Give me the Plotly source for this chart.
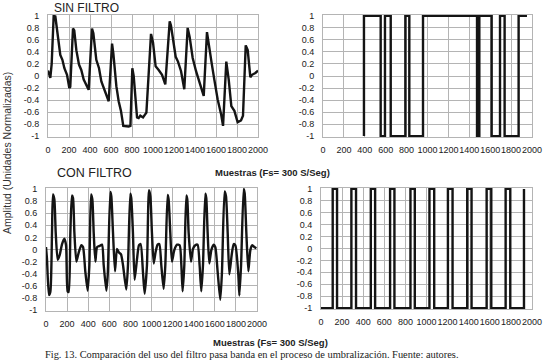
import plotly.graph_objects as go

# ---------------- data ----------------
sin_x = [0, 22, 35, 54, 70, 92, 117, 137, 156, 181, 203, 212, 238, 250, 270, 295, 317, 340, 365, 387,
         419, 432, 460, 486, 508, 530, 556, 578, 610, 622, 651, 673, 695, 717, 768, 785, 803, 816, 848,
         863, 879, 905, 937, 981, 1000, 1025, 1054, 1086, 1117, 1159, 1171, 1197, 1216, 1238, 1267, 1298,
         1330, 1349, 1378, 1410, 1441, 1463, 1483, 1514, 1533, 1559, 1584, 1616, 1648, 1667, 1698, 1721,
         1746, 1775, 1806, 1838, 1857, 1883, 1902, 1927, 1943, 1975, 2000]
sin_y = [0.09, -0.03, 0.2, 1.0, 0.99, 0.65, 0.35, 0.27, 0.13, 0.02, -0.2, -0.18, 0.79, 0.76, 0.43, 0.19,
         0.10, -0.06, -0.14, -0.23, 0.79, 0.71, 0.27, 0.13, -0.09, -0.2, -0.31, -0.42, 0.54, 0.38, -0.17,
         -0.42, -0.58, -0.83, -0.84, -0.83, 0.13, 0.0, -0.69, -0.70, -0.66, -0.69, -0.61, 0.70, 0.56, 0.16,
         0.10, 0.02, -0.14, 0.91, 0.84, 0.49, 0.32, 0.24, 0.08, -0.22, 0.80, 0.65, 0.30, 0.08, -0.09, -0.18,
         -0.33, 0.73, 0.54, 0.21, -0.06, -0.39, -0.63, -0.83, 0.24, -0.06, -0.5, -0.58, -0.77, -0.74, -0.66,
         0.51, 0.43, -0.02, 0.02, 0.05, 0.09]

con_x = [0, 9, 28, 41, 57, 66, 79, 92, 111, 130, 152, 174, 190, 205, 215, 231, 246, 256, 269, 288, 310,
         335, 351, 373, 395, 411, 427, 439, 452, 468, 484, 509, 531, 547, 572, 585, 610, 619, 635, 654,
         673, 692, 711, 730, 761, 777, 799, 808, 824, 840, 863, 881, 897, 919, 935, 957, 976, 989, 1004,
         1021, 1039, 1058, 1074, 1093, 1115, 1131, 1153, 1162, 1178, 1194, 1216, 1242, 1267, 1283, 1295,
         1311, 1330, 1339, 1352, 1374, 1393, 1415, 1437, 1456, 1472, 1488, 1510, 1519, 1532, 1548, 1567,
         1589, 1605, 1627, 1652, 1668, 1693, 1706, 1722, 1738, 1760, 1779, 1795, 1823, 1833, 1849, 1874,
         1883, 1899, 1918, 1937, 1956, 1975, 1994]
con_y = [0.04, -0.15, -0.75, -0.70, 0.28, 0.91, 0.83, 0.28, -0.17, -0.09, 0.09, 0.18, 0.07, -0.69, -0.70,
         0.28, 0.89, 0.85, 0.28, -0.2, -0.05, 0.07, 0.04, -0.37, -0.68, -0.26, 0.91, 0.83, 0.28, -0.2, 0.04,
         0.06, 0.08, -0.26, -0.68, -0.42, 0.95, 0.88, 0.28, -0.36, 0.01, -0.05, -0.08, -0.26, -0.66, -0.26,
         0.92, 0.85, 0.28, -0.50, -0.15, 0.07, 0.09, -0.37, -0.73, -0.26, 0.98, 0.88, 0.28, -0.23, -0.04,
         0.08, 0.09, -0.26, -0.65, -0.26, 0.90, 0.83, 0.28, -0.2, -0.01, 0.08, 0.07, -0.26, -0.69, -0.26,
         0.89, 0.83, 0.28, -0.2, 0.01, 0.07, 0.08, -0.26, -0.69, -0.26, 0.92, 0.85, 0.28, -0.23, -0.01,
         0.08, 0.04, -0.37, -0.83, -0.37, 0.96, 0.88, 0.28, -0.41, -0.09, 0.09, 0.07, -0.42, -0.76, -0.26,
         1.0, 0.93, 0.28, -0.36, -0.01, 0.07, 0.04, 0.02]

umb_sin_x = [392, 392, 552, 593, 648, 788, 826, 957, 1474, 1496, 1614, 1694, 1738, 1872, 1952]
umb_sin_y = [-1, 1, -1, 1, -1, 1, -1, 1, -1, 1, -1, 1, -1, 1, 1]

umb_con_x = [0, 111, 152, 288, 332, 472, 513, 655, 696, 848, 889, 1028, 1073, 1203, 1247, 1386, 1427,
             1570, 1614, 1750, 1794, 1924]
umb_con_y = [-1, 1, -1, 1, -1, 1, -1, 1, -1, 1, -1, 1, -1, 1, -1, 1, -1, 1, -1, 1, -1, 1]

x_tickvals = [0, 200, 400, 600, 800, 1000, 1200, 1400, 1600, 1800, 2000]
x_ticktext = ["0", "200", "400", "600", "800", "1000", "1200", "1400", "1600", "1800", "2000"]
y_tickvals = [1, 0.8, 0.6, 0.4, 0.2, 0, -0.2, -0.4, -0.6, -0.8, -1]
y_ticktext = ["1", "0.8", "0.6", "0.4", "0.2", "0", "-0.2", "-0.4", "-0.6", "-0.8", "-1"]

title_top = "SIN FILTRO"
title_bottom = "CON FILTRO"
x_title = "Muestras (Fs= 300 S/Seg)"
y_title = "Amplitud (Unidades Normalizadas)"
caption = "Fig. 13. Comparación del uso del filtro pasa banda en el proceso de umbralización. Fuente: autores."

# ---------------- figure ----------------
W, H = 550, 364
LINE = dict(color="#141414", width=2.4)

fig = go.Figure()
fig.add_trace(go.Scatter(x=sin_x, y=sin_y, mode="lines", line=LINE, xaxis="x", yaxis="y"))
fig.add_trace(go.Scatter(x=umb_sin_x, y=umb_sin_y, mode="lines", line=dict(LINE, shape="hv"),
                         xaxis="x2", yaxis="y2"))
fig.add_trace(go.Scatter(x=con_x, y=con_y, mode="lines", line=dict(LINE, shape="spline", smoothing=0.6),
                         xaxis="x3", yaxis="y3"))
fig.add_trace(go.Scatter(x=umb_con_x, y=umb_con_y, mode="lines", line=dict(LINE, shape="hv"),
                         xaxis="x4", yaxis="y4"))


def px_x(p):
    return p / W


def px_y(p):
    return 1 - p / H


tick_font = dict(family="Liberation Sans, Arial, sans-serif", size=9, color="#1a1a1a")


def xaxis(left, right, anchor):
    return dict(domain=[px_x(left), px_x(right)], range=[0, 2000], anchor=anchor, automargin=False,
                tickvals=x_tickvals, ticktext=x_ticktext, tickfont=tick_font, tickangle=0,
                showgrid=True, gridcolor="#b4b4b4", gridwidth=1, zeroline=False,
                showline=True, linecolor="#b4b4b4", linewidth=1, mirror=True,
                ticks="", ticklabelstandoff=4, fixedrange=True)


def yaxis(top, bottom, anchor):
    return dict(domain=[px_y(bottom), px_y(top)], range=[-1.015, 1.015], anchor=anchor, automargin=False,
                tickvals=y_tickvals, ticktext=y_ticktext, tickfont=tick_font,
                showgrid=True, gridcolor="#b4b4b4", gridwidth=1, zeroline=False,
                showline=True, linecolor="#b4b4b4", linewidth=1, mirror=True,
                ticks="", ticklabelstandoff=6, fixedrange=True)


fig.update_layout(
    width=W, height=H, margin=dict(l=0, r=0, t=0, b=0, pad=0, autoexpand=False),
    paper_bgcolor="white", plot_bgcolor="white", showlegend=False,
    xaxis=xaxis(48, 258, "y"), yaxis=yaxis(15, 137, "x"),
    xaxis2=xaxis(323, 532, "y2"), yaxis2=yaxis(15, 137, "x2"),
    xaxis3=xaxis(46, 257, "y3"), yaxis3=yaxis(188, 311, "x3"),
    xaxis4=xaxis(321, 532, "y4"), yaxis4=yaxis(188, 309, "x4"),
)

ann = [
    dict(text=title_top, x=px_x(53), y=1.0, xanchor="left", yanchor="top", borderpad=0,
         font=dict(family="Liberation Sans, Arial", size=12, color="#222")),
    dict(text=title_bottom, x=px_x(55), y=px_y(173), xanchor="left", yanchor="middle",
         font=dict(family="Liberation Sans, Arial", size=12.5, color="#222")),
    dict(text="<b>" + x_title + "</b>", x=px_x(272), y=px_y(172), xanchor="center", yanchor="middle",
         font=dict(family="Liberation Sans, Arial", size=9.5, color="#222")),
    dict(text="<b>" + x_title + "</b>", x=px_x(270), y=px_y(342), xanchor="center", yanchor="middle",
         font=dict(family="Liberation Sans, Arial", size=9.5, color="#222")),
    dict(text=y_title, x=px_x(7), y=px_y(153), xanchor="center", yanchor="middle", textangle=-90,
         font=dict(family="Liberation Sans, Arial", size=10.5, color="#333")),
    dict(text=caption, x=px_x(251), y=px_y(354), xanchor="center", yanchor="middle",
         font=dict(family="Liberation Serif, Times New Roman, serif", size=10.4, color="#222")),
]
for a in ann:
    a.update(xref="paper", yref="paper", showarrow=False)
fig.update_layout(annotations=ann)

fig.write_html("out.html", config={"displayModeBar": False},
               post_script="document.body.style.margin='0px';")
